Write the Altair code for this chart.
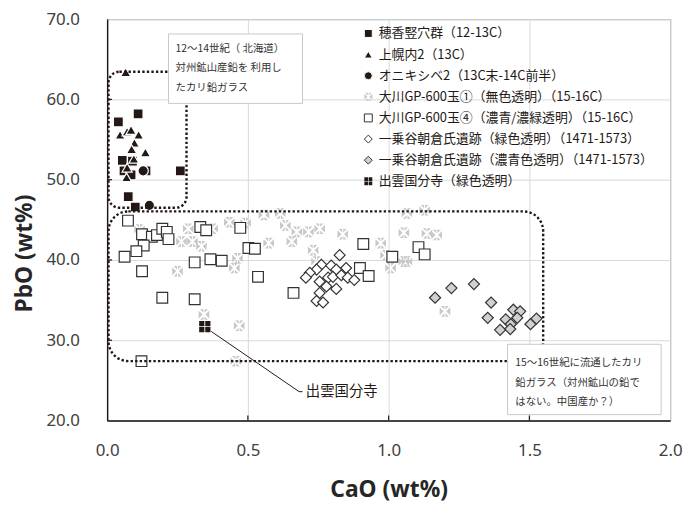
import altair as alt
import pandas as pd

# ---------------- data ----------------
S1 = "穂香竪穴群（12-13C）"
S2 = "上幌内2（13C）"
S3 = "オニキシベ2（13C末-14C前半）"
S4 = "大川GP-600玉①（無色透明）（15-16C）"
S5 = "大川GP-600玉④（濃青/濃緑透明）（15-16C）"
S6 = "一乗谷朝倉氏遺跡（緑色透明）（1471-1573）"
S7 = "一乗谷朝倉氏遺跡（濃青色透明）（1471-1573）"
S8 = "出雲国分寺（緑色透明）"
SERIES = [S1, S2, S3, S4, S5, S6, S7, S8]

s1_cao = [0.11, 0.04, 0.054, 0.06, 0.138, 0.26, 0.075, 0.10, 0.09, 0.085]
s1_pbo = [58.2, 57.2, 52.4, 51.1, 51.1, 51.1, 47.9, 46.6, 52.3, 50.6]

s2_cao = [0.066, 0.046, 0.071, 0.085, 0.112, 0.097, 0.087, 0.136, 0.071, 0.069, 0.095]
s2_pbo = [63.4, 55.6, 56.0, 56.2, 55.6, 54.6, 53.8, 53.4, 51.5, 50.3, 52.6]

s3_cao = [0.128, 0.15]
s3_pbo = [51.1, 46.8]

s4_cao = [0.115, 0.288, 0.264, 0.303, 0.335, 0.375, 0.434, 0.492, 0.463, 0.452,
          0.25, 0.574, 0.557, 0.615, 0.633, 0.344, 0.469, 0.457, 0.674, 0.715,
          0.755, 0.656, 0.732, 0.744, 0.837, 0.972, 1.065, 1.128, 1.054, 1.136,
          1.171, 0.989, 1.007, 1.054, 1.065, 1.2]
s4_pbo = [43.8, 43.9, 42.3, 42.3, 41.7, 43.9, 44.7, 44.6, 40.2, 39.0,
          38.6, 42.1, 45.6, 45.8, 44.3, 33.2, 31.8, 27.4, 43.5, 43.5,
          43.9, 42.3, 41.2, 39.8, 43.2, 42.1, 45.8, 46.2, 43.4, 43.3,
          43.1, 40.6, 39.0, 39.8, 39.8, 33.6]

s5_cao = [0.074, 0.124, 0.159, 0.177, 0.196, 0.212, 0.218, 0.13, 0.104, 0.062,
          0.124, 0.196, 0.311, 0.331, 0.352, 0.311, 0.367, 0.407, 0.473, 0.502,
          0.525, 0.536, 0.122, 0.91, 1.013, 0.898, 0.929, 0.662, 1.106, 1.128]
s5_pbo = [44.9, 43.2, 42.9, 43.1, 43.9, 43.5, 42.6, 41.8, 41.1, 40.4,
          38.6, 35.3, 35.1, 44.1, 43.7, 39.7, 40.1, 39.9, 44.0, 41.5,
          41.4, 37.9, 27.4, 42.0, 40.4, 39.0, 38.0, 35.9, 41.6, 40.7]

s6_cao = [0.826, 0.761, 0.744, 0.796, 0.814, 0.849, 0.72, 0.706, 0.755, 0.785,
          0.802, 0.832, 0.855, 0.878, 0.779, 0.814, 0.755, 0.744, 0.767]
s6_pbo = [40.6, 39.4, 38.8, 39.3, 38.8, 39.0, 38.4, 37.8, 37.3, 37.8,
          37.9, 38.1, 37.8, 37.5, 36.7, 36.4, 35.9, 34.9, 34.7]

s7_cao = [1.165, 1.223, 1.303, 1.364, 1.352, 1.396, 1.416, 1.443, 1.467, 1.434,
          1.432, 1.457, 1.504, 1.525]
s7_pbo = [35.3, 36.5, 37.0, 34.7, 32.8, 31.3, 32.6, 33.8, 33.6, 32.0,
          31.4, 32.8, 32.0, 32.7]

s8_cao = [0.347]
s8_pbo = [31.7]

x_ticks = [0.0, 0.5, 1.0, 1.5, 2.0]
y_ticks = [20, 30, 40, 50, 60, 70]

# annotation shapes (data coordinates)
zone_x = [0.005, 0.005]
zone_x2 = [0.282, 1.549]
zone_y = [63.45, 46.05]
zone_y2 = [46.5, 27.4]

note_x = [0.218, 1.4225]
note_x2 = [0.694, 1.968]
note_y = [68.15, 29.5]
note_y2 = [59.5, 20.74]
note_tx = [0.243, 1.45]
note_ty = [66.9, 27.75]
note_text = ["12～14世紀（ 北海道）\n対州鉱山産鉛を 利用し\nたカリ鉛ガラス",
             "15～16世紀に流通したカリ\n鉛ガラス（対州鉱山の鉛で\nはない。中国産か？）"]

call_x = [0.37, 0.682, 0.694]
call_y = [31.1, 23.6, 23.6]
call_label = "出雲国分寺"

# ---------------- table ----------------
groups = [(S4, s4_cao, s4_pbo), (S5, s5_cao, s5_pbo), (S6, s6_cao, s6_pbo),
          (S7, s7_cao, s7_pbo), (S1, s1_cao, s1_pbo), (S2, s2_cao, s2_pbo),
          (S3, s3_cao, s3_pbo), (S8, s8_cao, s8_pbo)]
rows = []
z = 0
for name, xs_, ys_ in groups:
    for a, b in zip(xs_, ys_):
        rows.append({"series": name, "CaO": a, "PbO": b, "z": z,
                     "sz": SERIES.index(name)})
        z += 1
df = pd.DataFrame(rows)

ASTER = ("M-0.75,-1L-0.1,-1L-0.1,-0.35Z M0.1,-1L0.75,-1L0.1,-0.35Z "
         "M-0.75,1L-0.1,1L-0.1,0.35Z M0.1,1L0.75,1L0.1,0.35Z "
         "M-1,-0.75L-1,0.75L-0.25,0Z M1,-0.75L1,0.75L0.25,0Z")
CHECK = ("M-1,-1H-0.08V-0.08H-1Z M0.08,-1H1V-0.08H0.08Z "
         "M-1,0.08H-0.08V1H-1Z M0.08,0.08H1V1H0.08Z")
SHAPES = ["square", "triangle-up", "circle", ASTER, "square", "diamond", "diamond", CHECK]
FILLS = ["#231815", "#231815", "#231815", "#c8c8c8", "#ffffff", "#ffffff", "#d0d0d0", "#231815"]
STROKES = ["#ffffff", "#ffffff", "#ffffff", "transparent", "#333333", "#333333", "#333333", "transparent"]
SIZES = [100, 130, 90, 130, 140, 150, 150, 200]

FONT = "Noto Sans"
JFONT = "Noto Sans CJK JP"

xs = alt.Scale(domain=[0, 2], nice=False, zero=False)
ys = alt.Scale(domain=[20, 70], nice=False, zero=False)

xaxis = alt.Axis(values=x_ticks, format=".1f", title="CaO (wt%)",
                 labelFontSize=17, labelColor="#404040", labelFont=FONT,
                 labelPadding=22, tickSize=0, labelFlush=False,
                 labelOverlap=False, domainColor="#231815", domainWidth=1.4,
                 grid=True, gridColor="#d9d9d9", titleFont=FONT, titleFontSize=23,
                 titleFontWeight="bold", titleColor="#262626", titlePadding=21)
yaxis = alt.Axis(values=y_ticks, format=".1f", title="PbO (wt%)",
                 labelFontSize=17, labelColor="#404040", labelFont=FONT,
                 labelPadding=28, tickSize=0, labelOverlap=False,
                 domainColor="#231815", domainWidth=1.4, grid=True,
                 gridColor="#d9d9d9", titleFont=FONT, titleFontSize=23,
                 titleFontWeight="bold", titleColor="#262626",
                 titleX=-83, titleY=236, titleBaseline="middle")

leg = alt.Legend(title=None, orient="none", legendX=257, legendY=8,
                 labelFont=JFONT, labelFontSize=13, labelColor="#231815",
                 symbolSize=64, symbolStrokeWidth=1, rowPadding=7.3,
                 labelLimit=400)

X = alt.X("CaO:Q", scale=xs, axis=xaxis)
Y = alt.Y("PbO:Q", scale=ys, axis=yaxis)

points = alt.Chart(df).mark_point(filled=True, opacity=1, strokeWidth=1.2).encode(
    x=X, y=Y,
    shape=alt.Shape("series:N", scale=alt.Scale(domain=SERIES, range=SHAPES), legend=leg),
    fill=alt.Fill("series:N", scale=alt.Scale(domain=SERIES, range=FILLS), legend=leg),
    stroke=alt.Stroke("series:N", scale=alt.Scale(domain=SERIES, range=STROKES), legend=leg),
    size=alt.Size("sz:O", scale=alt.Scale(domain=list(range(8)), range=SIZES), legend=None),
    order=alt.Order("z:Q"),
)

zones = pd.DataFrame({"CaO": zone_x, "CaO2": zone_x2, "PbO": zone_y, "PbO2": zone_y2, "k": [0, 1]})
zone1 = alt.Chart(zones[zones.k == 0]).mark_rect(
    fill="transparent", stroke="#231815", strokeWidth=2.4, strokeDash=[2.4, 2.2],
    cornerRadius=11).encode(x=X, x2="CaO2", y=Y, y2="PbO2")
zone2 = alt.Chart(zones[zones.k == 1]).mark_rect(
    fill="transparent", stroke="#231815", strokeWidth=2.4, strokeDash=[2.4, 2.2],
    cornerRadius=20).encode(x=X, x2="CaO2", y=Y, y2="PbO2")

notes = pd.DataFrame({"CaO": note_x, "CaO2": note_x2, "PbO": note_y, "PbO2": note_y2})
note_box = alt.Chart(notes).mark_rect(fill="white", stroke="#c8c8c8", strokeWidth=1).encode(
    x=X, x2="CaO2", y=Y, y2="PbO2")
note_t = pd.DataFrame({"CaO": note_tx, "PbO": note_ty, "t": note_text})
note_txt = alt.Chart(note_t).mark_text(align="left", baseline="top", font=JFONT,
                                       fontSize=10.5, lineHeight=19.5, color="#333333",
                                       lineBreak="\n").encode(x=X, y=Y, text="t:N")

call = pd.DataFrame({"CaO": call_x, "PbO": call_y, "o": [0, 1, 2]})
call_line = alt.Chart(call).mark_line(color="#231815", strokeWidth=1).encode(
    x=X, y=Y, order="o:Q")
call_txt = alt.Chart(pd.DataFrame({"CaO": [call_x[-1] + 0.012], "PbO": [call_y[-1]],
                                   "t": [call_label]})).mark_text(
    align="left", baseline="middle", font=JFONT, fontSize=14.5, color="#231815").encode(
    x=X, y=Y, text="t:N")

xt = alt.Chart(pd.DataFrame({"CaO": x_ticks[1:-1]})).mark_rule(color="#231815", strokeWidth=1.2).encode(
    x=X, y=alt.value(400), y2=alt.value(405))
yt = alt.Chart(pd.DataFrame({"PbO": y_ticks[1:-1]})).mark_rule(color="#231815", strokeWidth=1.2).encode(
    y=Y, x=alt.value(0), x2=alt.value(5))

chart = alt.layer(points, zone1, zone2, note_box, note_txt, call_line, call_txt, xt, yt).properties(
    width=568, height=405, autosize="none",
    padding={"left": 100, "top": 9, "right": 16, "bottom": 86},
).configure_view(stroke="#595959", strokeWidth=1)

chart.save("out.html", embed_options={"renderer": "svg", "actions": False})
